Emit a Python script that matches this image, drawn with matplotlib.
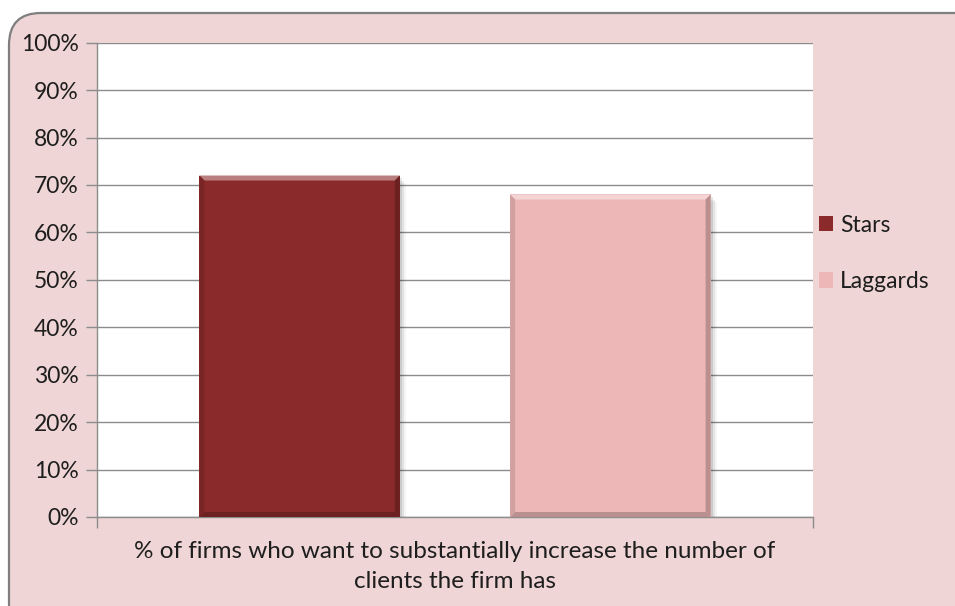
import matplotlib.pyplot as plt
from matplotlib.patches import FancyBboxPatch, Polygon, Rectangle
import matplotlib.colors as mcolors

plt.rcParams['font.family'] = ['Lato', 'DejaVu Sans']

# Chart data
category = '% of firms who want to substantially increase the number of\nclients the firm has'
series_names = ['Stars', 'Laggards']
series_values = [72, 68]
series_colors = ['#8B2A2A', '#EDB7B7']
y_ticks = list(range(0, 101, 10))
y_tick_labels = [f'{v}%' for v in y_ticks]

BG = '#EFD5D5'
GRID = '#8C8C8C'
TEXT = '#1E1E1E'
FS = 16.5


def shade(color, factor):
    """Blend a colour toward white (factor > 0) or black (factor < 0)."""
    r, g, b = mcolors.to_rgb(color)
    if factor >= 0:
        return (r + (1 - r) * factor, g + (1 - g) * factor, b + (1 - b) * factor)
    f = 1 + factor
    return (r * f, g * f, b * f)


def add_bevel(ax, bar, color, size_px=5):
    """Draw a bevelled edge around a bar: light top, darker sides and bottom."""
    x0, y0 = bar.get_x(), bar.get_y()
    x1, y1 = x0 + bar.get_width(), y0 + bar.get_height()
    inv = ax.transData.inverted()
    ox, oy = ax.transData.transform((x0, y0))
    dx = inv.transform((ox + size_px, oy))[0] - x0
    dy = inv.transform((ox, oy + size_px))[1] - y0
    faces = [
        ([(x0, y1), (x1, y1), (x1 - dx, y1 - dy), (x0 + dx, y1 - dy)], shade(color, 0.4)),
        ([(x0, y0), (x1, y0), (x1 - dx, y0 + dy), (x0 + dx, y0 + dy)], shade(color, -0.22)),
        ([(x0, y0), (x0, y1), (x0 + dx, y1 - dy), (x0 + dx, y0 + dy)], shade(color, -0.12)),
        ([(x1, y0), (x1, y1), (x1 - dx, y1 - dy), (x1 - dx, y0 + dy)], shade(color, -0.22)),
    ]
    for pts, c in faces:
        ax.add_patch(Polygon(pts, closed=True, facecolor=c, edgecolor='none', zorder=3.5))
    # soft drop shadow to the right and below
    for i, a in enumerate([0.10, 0.07, 0.04]):
        sx = inv.transform((ox + 2 + i * 2, oy))[0] - x0
        sy = inv.transform((ox, oy + 2 + i * 2))[1] - y0
        ax.add_patch(Rectangle((x0 + sx, y0 - sy * 0.3), x1 - x0, y1 - y0 - sy,
                               facecolor='black', alpha=a, edgecolor='none', zorder=2.5))


fig = plt.figure(figsize=(9.55, 6.06), dpi=100)
fig.patch.set_facecolor('white')

# rounded chart frame, running off the right and bottom edges
frame = FancyBboxPatch((0.09, -0.3), 9.8, 6.23,
                       boxstyle='round,pad=0,rounding_size=0.32',
                       transform=fig.dpi_scale_trans,
                       facecolor=BG, edgecolor='#7F7F7F', linewidth=1.6, zorder=-10)
fig.patches.append(frame)

ax = fig.add_axes([0.1016, 0.1469, 0.7497, 0.7826])
ax.set_facecolor('white')
ax.set_xlim(-0.5, 0.5)
ax.set_ylim(0, 100)

bar_width = 0.28
offsets = [-0.217, 0.217]
bars = []
for name, val, col, off in zip(series_names, series_values, series_colors, offsets):
    b = ax.bar(off, val, width=bar_width, color=col, label=name, zorder=3)[0]
    bars.append((b, col))

fig.canvas.draw()
for b, col in bars:
    add_bevel(ax, b, col)

ax.set_yticks(y_ticks, labels=y_tick_labels)
ax.yaxis.grid(True, color=GRID, linewidth=1.0)
ax.set_axisbelow(True)
ax.tick_params(axis='y', length=8, width=1, color=GRID, labelsize=FS,
               labelcolor=TEXT, pad=5)

ax.set_xticks([0], labels=[category])
ax.set_xticks([-0.5, 0.5], minor=True)
ax.tick_params(axis='x', which='major', length=0, labelsize=17.5,
               labelcolor=TEXT, pad=17)
ax.tick_params(axis='x', which='minor', length=8, width=1, color=GRID)
for lbl in ax.get_xticklabels():
    lbl.set_linespacing(1.55)

for side in ['top', 'right']:
    ax.spines[side].set_visible(False)
for side in ['left', 'bottom']:
    ax.spines[side].set_color(GRID)
    ax.spines[side].set_linewidth(1.0)

leg = ax.legend(loc='center left', bbox_to_anchor=(0.995, 0.556), frameon=False,
                fontsize=FS, handlelength=0.65, handleheight=0.65,
                handletextpad=0.3, labelspacing=1.55, borderaxespad=0)
for t in leg.get_texts():
    t.set_color(TEXT)

fig.savefig('out.png', dpi=100)
